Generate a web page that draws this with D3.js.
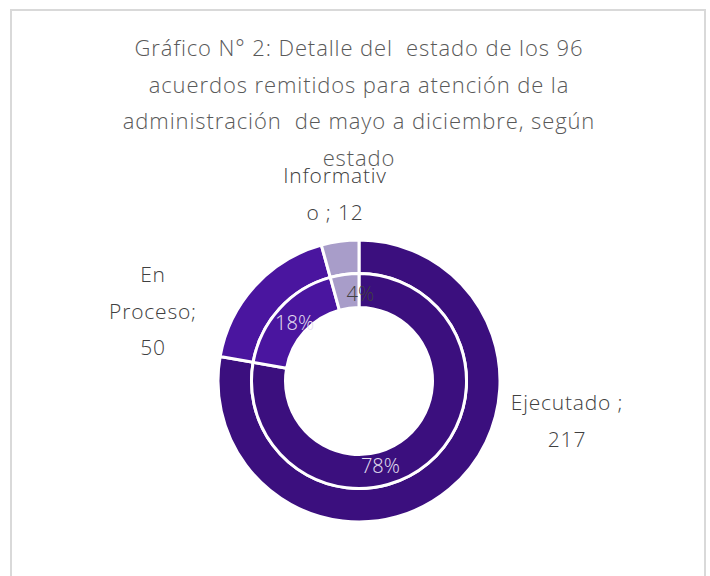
<!DOCTYPE html>
<html>
  <head>
    <meta charset="utf-8">
    <title>Gráfico N° 2</title>
    <style>
      body { margin: 0; background: #fff; }
      text { font-family: "Open Sans", "Lato", sans-serif; font-weight: 300; }
    </style>
  </head>
  <body>
    <svg width="710" height="576"></svg>
    <script src="https://d3js.org/d3.v7.min.js"></script>
    <script>

    // data
    var categories = ["Ejecutado", "En Proceso", "Informativo"];
    var values = [217, 50, 12];
    var colors = ["#3b0f7e", "#4a159f", "#a89dc9"];
    var titleLines = [
      "Gráfico N° 2: Detalle del  estado de los 96",
      "acuerdos remitidos para atención de la",
      "administración  de mayo a diciembre, según",
      "estado"
    ];

    var svg = d3.select("svg"),
        cx = 359, cy = 381;

    // chart frame
    svg.append("rect")
        .attr("x", 11).attr("y", 10)
        .attr("width", 694).attr("height", 580)
        .attr("fill", "#fff")
        .attr("stroke", "#d9d9d9")
        .attr("stroke-width", 2);

    svg.append("g").selectAll("text")
        .data(titleLines)
      .enter().append("text")
        .attr("x", 359)
        .attr("y", function(d, i) { return 56 + i * 36.5; })
        .attr("text-anchor", "middle")
        .attr("font-size", 22)
        .attr("letter-spacing", 0.9)
        .attr("fill", "#595959")
        .style("white-space", "pre")
        .text(function(d) { return d; });

    var data = categories.map(function(c, i) { return {name: c, value: values[i]}; });
    var total = d3.sum(values);

    var pie = d3.pie().sort(null).value(function(d) { return d.value; });
    var arcs = pie(data);

    var outerArc = d3.arc().innerRadius(107.5).outerRadius(141);
    var innerArc = d3.arc().innerRadius(73.5).outerRadius(107.5);

    var g = svg.append("g").attr("transform", "translate(" + cx + "," + cy + ")");

    g.selectAll("path.outer")
        .data(arcs)
      .enter().append("path")
        .attr("class", "outer")
        .attr("d", outerArc)
        .attr("fill", function(d, i) { return colors[i]; })
        .attr("stroke", "#fff")
        .attr("stroke-width", 3);

    g.selectAll("path.inner")
        .data(arcs)
      .enter().append("path")
        .attr("class", "inner")
        .attr("d", innerArc)
        .attr("fill", function(d, i) { return colors[i]; })
        .attr("stroke", "#fff")
        .attr("stroke-width", 3);

    // percentage labels on inner ring (Excel nudges the big one toward the bottom)
    var pct = d3.format(".0%");
    var angleNudge = [0.45, 0, 0.15];
    g.selectAll("text.pct")
        .data(arcs)
      .enter().append("text")
        .attr("class", "pct")
        .attr("transform", function(d, i) {
          var a = (d.startAngle + d.endAngle) / 2 + angleNudge[i], r = 87;
          return "translate(" + (Math.sin(a) * r) + "," + (-Math.cos(a) * r) + ")";
        })
        .attr("text-anchor", "middle")
        .attr("dy", "0.36em")
        .attr("font-size", 20)
        .attr("fill", function(d, i) { return i === 2 ? "#404040" : "#e6e0f2"; })
        .text(function(d) { return pct(d.value / total); });

    // outer category labels, wrapped as in the original
    var labelLines = [
      ["Ejecutado ;", String(values[0])],
      ["En", "Proceso;", String(values[1])],
      ["Informativ", "o ; " + values[2]]
    ];
    var labelPos = [[208, 29], [-206, -99], [-24, -198]];

    labelLines.forEach(function(lines, i) {
      var t = g.append("text")
          .attr("text-anchor", "middle")
          .attr("font-size", 21)
          .attr("letter-spacing", 0.8)
          .attr("fill", "#404040");
      lines.forEach(function(l, j) {
        t.append("tspan")
            .attr("x", labelPos[i][0])
            .attr("y", labelPos[i][1] + j * 36.5)
            .text(l);
      });
    });

    </script>
  </body>
</html>
